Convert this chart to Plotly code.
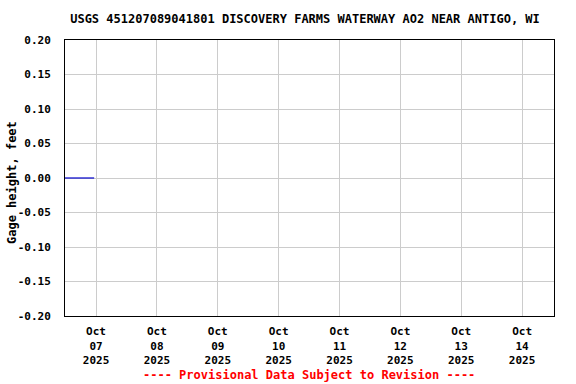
import plotly.graph_objects as go

# Data
times = ["2025-10-06 11:45", "2025-10-06 15:45", "2025-10-06 19:45", "2025-10-06 23:15"]
gage_height = [0.0, 0.0, 0.0, 0.0]

x_tick_vals = ["2025-10-07", "2025-10-08", "2025-10-09", "2025-10-10",
               "2025-10-11", "2025-10-12", "2025-10-13", "2025-10-14"]
x_tick_text = ["Oct<br>07<br>2025", "Oct<br>08<br>2025", "Oct<br>09<br>2025", "Oct<br>10<br>2025",
               "Oct<br>11<br>2025", "Oct<br>12<br>2025", "Oct<br>13<br>2025", "Oct<br>14<br>2025"]
y_tick_vals = [-0.20, -0.15, -0.10, -0.05, 0.00, 0.05, 0.10, 0.15, 0.20]
y_tick_text = ["-0.20", "-0.15", "-0.10", "-0.05", "0.00", "0.05", "0.10", "0.15", "0.20"]

title_text = "USGS 451207089041801 DISCOVERY FARMS WATERWAY AO2 NEAR ANTIGO, WI"
y_title = "Gage height, feet"
footer = "---- Provisional Data Subject to Revision ----"

FONT = "DejaVu Sans Mono"

fig = go.Figure()
fig.add_trace(go.Scatter(x=times, y=gage_height, mode="lines",
                         line=dict(color="#0000cc", width=1.2), showlegend=False))

fig.update_layout(
    width=576, height=384,
    margin=dict(l=65, r=22, t=40, b=68),
    paper_bgcolor="white", plot_bgcolor="white",
    font=dict(family=FONT, size=11, color="black", weight="bold"),
    title=dict(text=title_text, x=305 / 576, xanchor="center", y=1 - 19 / 384, yanchor="middle",
               font=dict(family=FONT, size=12, color="black", weight="bold")),
    xaxis=dict(range=["2025-10-06 11:45", "2025-10-14 12:35"],
               tickvals=x_tick_vals, ticktext=x_tick_text,
               showgrid=True, gridcolor="#cccccc", gridwidth=1,
               showline=True, linecolor="black", linewidth=1, mirror=True,
               ticks="", zeroline=False, ticklabelstandoff=5, automargin=False,
               tickfont=dict(family=FONT, size=11, weight="bold")),
    yaxis=dict(range=[-0.20, 0.20], tickvals=y_tick_vals, ticktext=y_tick_text,
               showgrid=True, gridcolor="#cccccc", gridwidth=1,
               showline=True, linecolor="black", linewidth=1, mirror=True,
               ticks="", zeroline=False, ticklabelstandoff=11, automargin=False,
               tickfont=dict(family=FONT, size=11, weight="bold")),
    annotations=[
        dict(text=footer, x=(308.5 - 65) / 489, xref="paper", y=(316 - 375) / 276, yref="paper",
             xanchor="center", yanchor="middle", showarrow=False,
             font=dict(family=FONT, size=12, color="red", weight="bold")),
        dict(text=y_title, x=(12 - 65) / 489, xref="paper", y=(316 - 183) / 276, yref="paper",
             xanchor="center", yanchor="middle", showarrow=False, textangle=-90,
             font=dict(family=FONT, size=12, color="black", weight="bold")),
    ],
)

fig.write_html("out.html")
